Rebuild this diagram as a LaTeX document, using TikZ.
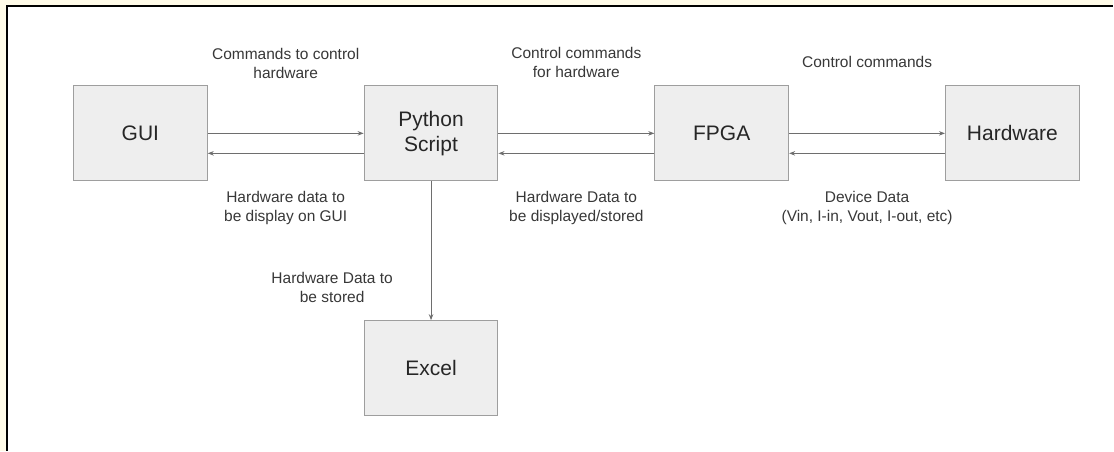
\documentclass[tikz,border=0pt]{standalone}
\usepackage{fontspec}
\setmainfont{Liberation Sans}
\usetikzlibrary{positioning,calc,arrows.meta}
\definecolor{boxfill}{HTML}{EEEEEE}
\definecolor{boxline}{HTML}{9E9E9E}
\definecolor{arrline}{HTML}{6E6E6E}
\definecolor{txt}{HTML}{383838}
\definecolor{cream}{HTML}{FFFBE8}

\begin{document}
\begin{tikzpicture}[
    x=1pt, y=1pt,
    blk/.style={draw=boxline, fill=boxfill, line width=1pt, minimum width=134pt, minimum height=95pt,
      align=center, font=\fontsize{21}{25}\selectfont, text=black!85, inner sep=0pt},
    lbl/.style={align=center, font=\fontsize{15.5}{18.5}\selectfont, text=txt, inner sep=0pt},
    flow/.style={draw=arrline, line width=0.9pt, -{Stealth[length=6pt,width=4.5pt]}},
    node distance=156pt
  ]

% Page frame
\fill[cream] (0,0) rectangle (1114,-451);
\fill[white] (7.3,-6.3) rectangle (1114,-451);
\draw[black, line width=2.4pt] (7.3,-451) -- (7.3,-6.3) -- (1114,-6.3);

% Blocks
\node[blk] (gui) at (140.5,-133.5) {GUI};
\node[blk, right=of gui] (py) {Python\\Script};
\node[blk, right=of py] (fpga) {FPGA};
\node[blk, right=of fpga] (hw) {Hardware};
\node[blk, below=139pt of py] (xl) {Excel};

% Forward and return paths
\draw[flow] (gui.east) -- (py.west);
\draw[flow] ([yshift=-20pt]py.west) -- ([yshift=-20pt]gui.east);
\draw[flow] (py.east) -- (fpga.west);
\draw[flow] ([yshift=-20pt]fpga.west) -- ([yshift=-20pt]py.east);
\draw[flow] (fpga.east) -- (hw.west);
\draw[flow] ([yshift=-20pt]hw.west) -- ([yshift=-20pt]fpga.east);
\draw[flow] (py.south) -- (xl.north);

% Labels above the arrows
\node[lbl] (cmd-gui) at ($(gui.east)!.5!(py.west)+(0,70)$) {Commands to control\\hardware};
\node[lbl] (cmd-py) at ($(py.east)!.5!(fpga.west)+(0,71)$) {Control commands\\for hardware};
\node[lbl] (cmd-fpga) at ($(fpga.east)!.5!(hw.west)+(0,71)$) {Control commands};

% Labels below the arrows
\node[lbl] (data-gui) at ($(gui.east)!.5!(py.west)+(0,-74.5)$) {Hardware data to\\be display on GUI};
\node[lbl] (data-py) at ($(py.east)!.5!(fpga.west)+(0,-74.5)$) {Hardware Data to\\be displayed/stored};
\node[lbl] (data-hw) at ($(fpga.east)!.5!(hw.west)+(0,-74.5)$) {Device Data\\(Vin, I-in, Vout, I-out, etc)};
\node[lbl] (data-xl) at ($(py.south)!.5!(xl.north)+(-99,-37)$) {Hardware Data to\\be stored};

\end{tikzpicture}
\end{document}
